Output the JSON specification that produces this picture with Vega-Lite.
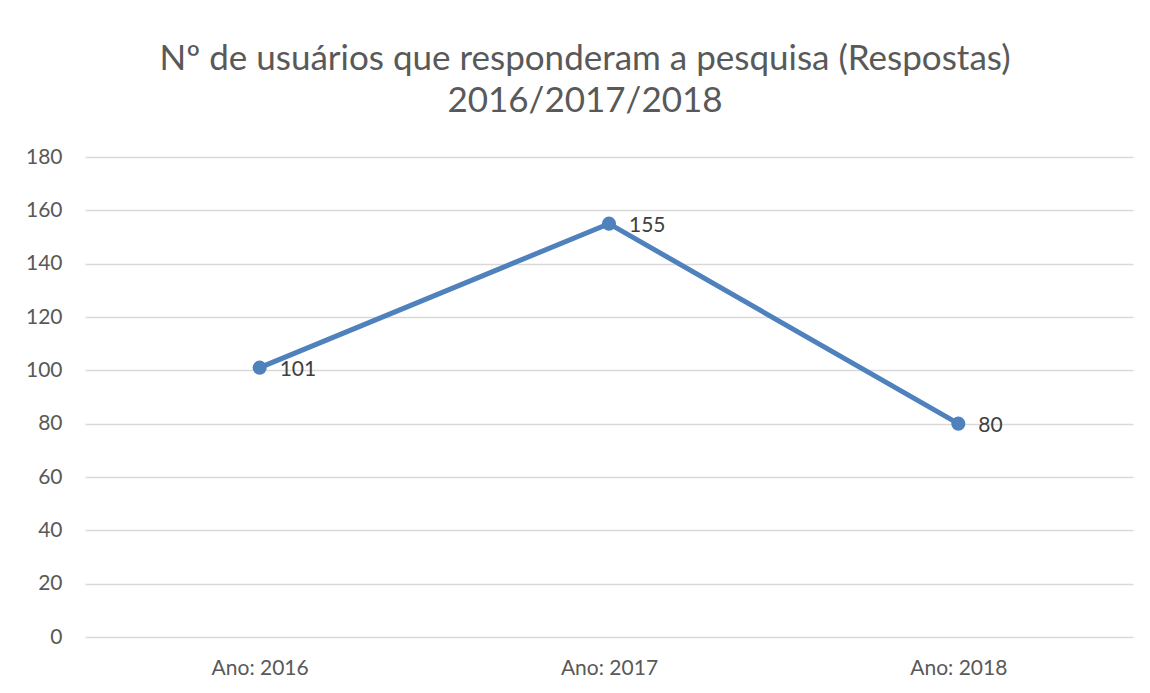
{
  "$schema": "https://vega.github.io/schema/vega-lite/v6.json",
  "autosize": "none",
  "width": 1048,
  "height": 480,
  "padding": {"left": 85, "top": 157, "right": 17, "bottom": 56},
  "background": "white",
  "config": {"view": {"stroke": null}, "font": "Lato"},
  "title": {
    "text": ["Nº de usuários que responderam a pesquisa (Respostas)", "2016/2017/2018"],
    "fontSize": 35,
    "fontWeight": "normal",
    "color": "#595959",
    "font": "Lato",
    "lineHeight": 42,
    "anchor": "middle",
    "dx": -24,
    "offset": 27
  },
  "data": {
    "values": [
      {"ano": "Ano: 2016", "respostas": 101},
      {"ano": "Ano: 2017", "respostas": 155},
      {"ano": "Ano: 2018", "respostas": 80}
    ]
  },
  "encoding": {
    "x": {
      "field": "ano", "type": "ordinal", "sort": null,
      "scale": {"type": "point", "padding": 0.5},
      "axis": {"title": null, "labelAngle": 0, "domain": false, "ticks": false, "grid": false, "labelPadding": 20, "labelFontSize": 21, "labelColor": "#595959", "labelFont": "Lato"}
    },
    "y": {
      "field": "respostas", "type": "quantitative",
      "scale": {"domain": [0, 180]},
      "axis": {"title": null, "values": [0, 20, 40, 60, 80, 100, 120, 140, 160, 180], "domain": false, "ticks": false, "grid": true, "gridColor": "#d9d9d9", "gridWidth": 1.3, "labelPadding": 23, "labelFontSize": 21, "labelColor": "#595959", "labelFont": "Lato"}
    }
  },
  "layer": [
    {"mark": {"type": "line", "color": "#4F81BD", "strokeWidth": 5}},
    {"mark": {"type": "point", "filled": true, "opacity": 1, "color": "#4F81BD", "size": 200}},
    {"mark": {"type": "text", "align": "left", "dx": 20, "dy": 2, "fontSize": 21, "color": "#404040", "font": "Lato"}, "encoding": {"text": {"field": "respostas", "type": "quantitative"}}}
  ]
}
